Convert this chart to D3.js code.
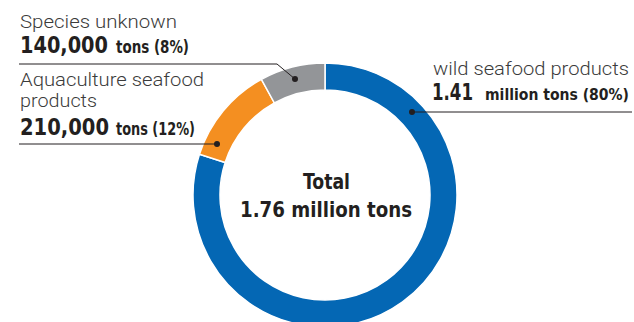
<!DOCTYPE html>
<html><head><meta charset="utf-8">
<script src="https://cdn.jsdelivr.net/npm/d3@7"></script>
<style>
html,body{margin:0;padding:0;background:#fff;}
svg{display:block;}
.lab{font-family:Roboto,"DejaVu Sans",sans-serif;font-weight:300;fill:#3b3b3b;}
.num{font-family:"DejaVu Sans Condensed","Roboto",sans-serif;font-weight:bold;fill:#231f20;}
</style>
</head><body>
<svg id="c" width="634" height="322"></svg>
<script>
const categories = ["wild seafood products", "Aquaculture seafood products", "Species unknown"];
const values = [1.41, 0.21, 0.14];          // million tons
const percents = [80, 12, 8];
const colors = ["#0467b4", "#f48f21", "#939598"];
const totalLabel = ["Total", "1.76 million tons"];

const svg = d3.select("#c");
const cx = 325, cy = 195, rOuter = 132, rInner = 105;

const pie = d3.pie().sort(null).value((d, i) => percents[i]);
const arcs = pie(values);
const arc = d3.arc().innerRadius(rInner).outerRadius(rOuter);
const g = svg.append("g").attr("transform", `translate(${cx},${cy})`);
g.selectAll("path").data(arcs).enter().append("path")
  .attr("d", arc).attr("fill", (d, i) => colors[i])
  .attr("stroke", "#fff").attr("stroke-width", 1.5);

function txt(x, y, s, cls, size, len, anchor) {
  const t = svg.append("text").attr("x", x).attr("y", y).attr("class", cls)
    .attr("font-size", size).text(s);
  if (anchor) t.attr("text-anchor", anchor);
  if (len) t.attr("textLength", len).attr("lengthAdjust", "spacingAndGlyphs");
  return t;
}
txt(303, 189, totalLabel[0], "num", 21.5, 47);
txt(240, 217, totalLabel[1], "num", 21.5, 172);

const line = d3.line();
const ink = "#231f20";

// Species unknown
txt(20, 28, categories[2], "lab", 19, 157);
txt(20, 53, "140,000", "num", 23.5, 88);
txt(116, 53, "tons (8%)", "num", 17, 73);
const pU = [295, 79];
svg.append("path").attr("d", line([[19, 64], [277, 64], pU])).attr("fill", "none").attr("stroke", ink).attr("stroke-width", 1);
svg.append("circle").attr("cx", pU[0]).attr("cy", pU[1]).attr("r", 3).attr("fill", ink);

// Aquaculture
txt(20, 86, "Aquaculture seafood", "lab", 19, 184);
txt(20, 107, "products", "lab", 19, 77);
txt(20, 135, "210,000", "num", 23.5, 89);
txt(116, 135, "tons (12%)", "num", 17, 79);
const pA = [217, 144];
svg.append("path").attr("d", line([[19, 144], pA])).attr("fill", "none").attr("stroke", ink).attr("stroke-width", 1);
svg.append("circle").attr("cx", pA[0]).attr("cy", pA[1]).attr("r", 3).attr("fill", ink);

// Wild
txt(433, 75, categories[0], "lab", 19, 196);
txt(432, 100, "1.41", "num", 23.5, 41);
txt(629, 100, "million tons (80%)", "num", 16, 144, "end");
const pW = [412, 112];
svg.append("path").attr("d", line([pW, [632, 112]])).attr("fill", "none").attr("stroke", ink).attr("stroke-width", 1);
svg.append("circle").attr("cx", pW[0]).attr("cy", pW[1]).attr("r", 3).attr("fill", ink);
</script>
</body></html>
